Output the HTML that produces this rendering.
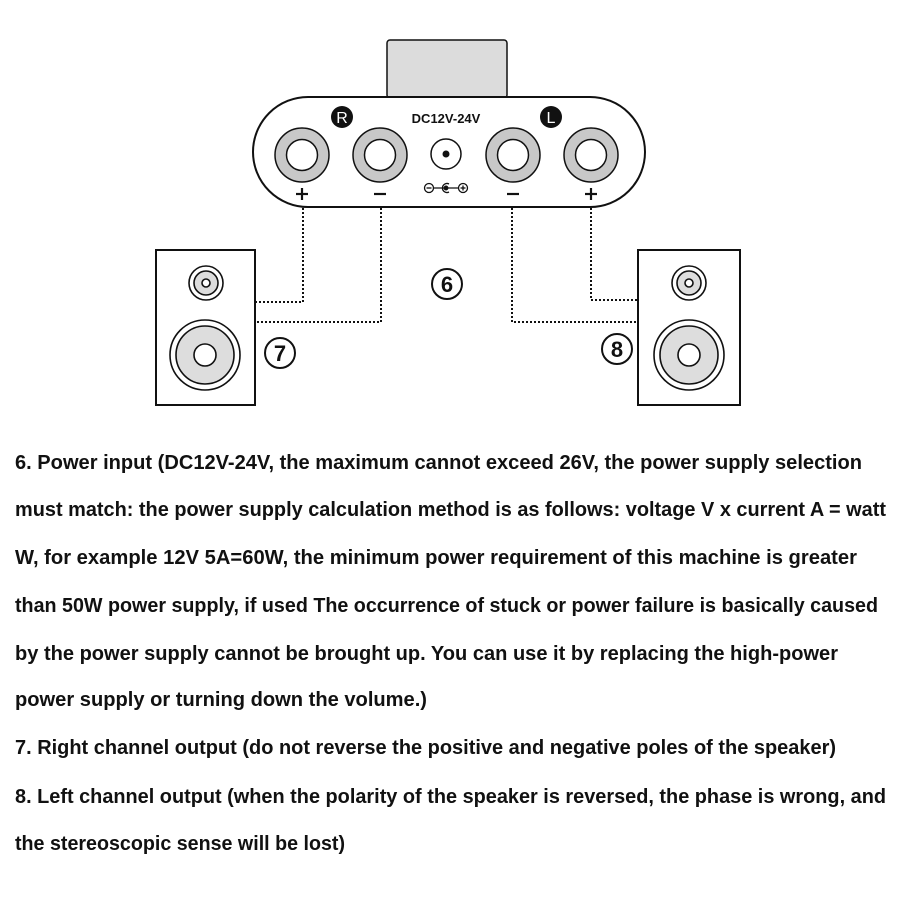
<!DOCTYPE html>
<html><head><meta charset="utf-8"><style>html,body{margin:0;padding:0;background:#fff}svg{display:block}</style></head>
<body>
<svg width="900" height="900" viewBox="0 0 900 900" xmlns="http://www.w3.org/2000/svg" font-family="Liberation Sans, sans-serif">
<rect width="900" height="900" fill="#fff"/>
<rect x="387" y="40" width="120" height="58" rx="3" fill="#dcdcdc" stroke="#111" stroke-width="1.5"/>
<rect x="253" y="97" width="392" height="110" rx="55" fill="#fff" stroke="#111" stroke-width="2"/>
<g stroke="#111" stroke-width="1.5">
<circle cx="302" cy="155" r="27" fill="#c8c8c8"/><circle cx="302" cy="155" r="15.5" fill="#fff"/>
<circle cx="380" cy="155" r="27" fill="#c8c8c8"/><circle cx="380" cy="155" r="15.5" fill="#fff"/>
<circle cx="513" cy="155" r="27" fill="#c8c8c8"/><circle cx="513" cy="155" r="15.5" fill="#fff"/>
<circle cx="591" cy="155" r="27" fill="#c8c8c8"/><circle cx="591" cy="155" r="15.5" fill="#fff"/>
<circle cx="446" cy="154" r="15" fill="#fff"/>
</g>
<circle cx="446" cy="154" r="3.5" fill="#111"/>
<circle cx="342" cy="117" r="11" fill="#111"/><text x="342" y="123" font-size="16" fill="#fff" text-anchor="middle">R</text>
<circle cx="551" cy="117" r="11" fill="#111"/><text x="551" y="123" font-size="16" fill="#fff" text-anchor="middle">L</text>
<text x="446" y="123" font-size="13" font-weight="bold" text-anchor="middle" fill="#111">DC12V-24V</text>
<g stroke="#111" stroke-width="2.2">
<line x1="296" y1="194" x2="308" y2="194"/><line x1="302" y1="188" x2="302" y2="200"/>
<line x1="374" y1="194" x2="386" y2="194"/>
<line x1="507" y1="194" x2="519" y2="194"/>
<line x1="585" y1="194" x2="597" y2="194"/><line x1="591" y1="188" x2="591" y2="200"/>
</g>
<g stroke="#111" stroke-width="1.3" fill="none">
<circle cx="429" cy="188" r="4.5"/><line x1="426.5" y1="188" x2="431.5" y2="188"/>
<line x1="433.5" y1="188" x2="459" y2="188"/>
<path d="M449 184 A4.5 4.5 0 1 0 449 192"/>
<circle cx="446" cy="188" r="1.8" fill="#111"/>
<circle cx="463" cy="188" r="4.5" fill="#fff"/><line x1="460.5" y1="188" x2="465.5" y2="188"/><line x1="463" y1="185.5" x2="463" y2="190.5"/>
</g>
<g stroke="#111" stroke-width="2" fill="none" stroke-dasharray="2 2">
<path d="M303 208 V302 H256"/>
<path d="M381 208 V322 H256"/>
<path d="M591 208 V300 H638"/>
<path d="M512 208 V322 H638"/>
</g>
<rect x="156" y="250" width="99" height="155" fill="#fff" stroke="#111" stroke-width="2"/>
<g stroke="#111" stroke-width="1.6">
<circle cx="206" cy="283" r="17" fill="#fff"/><circle cx="206" cy="283" r="12" fill="#ddd"/><circle cx="206" cy="283" r="4" fill="#fff"/>
<circle cx="205" cy="355" r="35" fill="#fff"/><circle cx="205" cy="355" r="29" fill="#ddd"/><circle cx="205" cy="355" r="11" fill="#fff"/>
</g>
<rect x="638" y="250" width="102" height="155" fill="#fff" stroke="#111" stroke-width="2"/>
<g stroke="#111" stroke-width="1.6">
<circle cx="689" cy="283" r="17" fill="#fff"/><circle cx="689" cy="283" r="12" fill="#ddd"/><circle cx="689" cy="283" r="4" fill="#fff"/>
<circle cx="689" cy="355" r="35" fill="#fff"/><circle cx="689" cy="355" r="29" fill="#ddd"/><circle cx="689" cy="355" r="11" fill="#fff"/>
</g>
<g stroke="#111" stroke-width="2" fill="#fff">
<circle cx="447" cy="284" r="15"/><circle cx="280" cy="353" r="15"/><circle cx="617" cy="349" r="15"/>
</g>
<g font-size="22" font-weight="bold" text-anchor="middle" fill="#111">
<text x="447" y="292">6</text><text x="280" y="361">7</text><text x="617" y="357">8</text>
</g>
<g font-size="20" font-weight="bold" fill="#111">
<text x="15" y="469" textLength="847" lengthAdjust="spacingAndGlyphs">6. Power input (DC12V-24V, the maximum cannot exceed 26V, the power supply selection</text>
<text x="15" y="516" textLength="871" lengthAdjust="spacingAndGlyphs">must match: the power supply calculation method is as follows: voltage V x current A = watt</text>
<text x="15" y="564" textLength="842" lengthAdjust="spacingAndGlyphs">W, for example 12V 5A=60W, the minimum power requirement of this machine is greater</text>
<text x="15" y="612" textLength="863" lengthAdjust="spacingAndGlyphs">than 50W power supply, if used The occurrence of stuck or power failure is basically caused</text>
<text x="15" y="660" textLength="823" lengthAdjust="spacingAndGlyphs">by the power supply cannot be brought up. You can use it by replacing the high-power</text>
<text x="15" y="706" textLength="412" lengthAdjust="spacingAndGlyphs">power supply or turning down the volume.)</text>
<text x="15" y="754" textLength="821" lengthAdjust="spacingAndGlyphs">7. Right channel output (do not reverse the positive and negative poles of the speaker)</text>
<text x="15" y="803" textLength="871" lengthAdjust="spacingAndGlyphs">8. Left channel output (when the polarity of the speaker is reversed, the phase is wrong, and</text>
<text x="15" y="850" textLength="330" lengthAdjust="spacingAndGlyphs">the stereoscopic sense will be lost)</text>
</g>
</svg>
</body></html>
